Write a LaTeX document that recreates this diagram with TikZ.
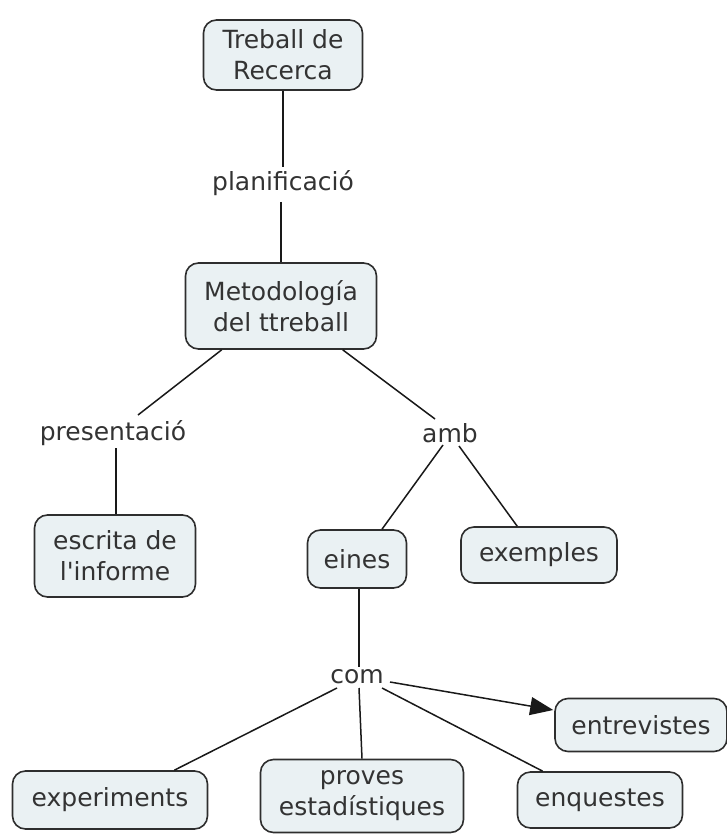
\documentclass[tikz,border=0pt]{standalone}
\usepackage{fontspec}
\setmainfont{DejaVu Sans}
\usetikzlibrary{arrows.meta,calc}
\definecolor{boxfill}{HTML}{EAF1F3}
\definecolor{boxline}{HTML}{2E2E2E}
\definecolor{txt}{HTML}{333333}
\tikzset{
  concept/.style={draw=boxline, line width=1.6pt, fill=boxfill, rounded corners=13pt,
    align=center, inner sep=0pt, text=txt, font=\fontsize{25}{31}\selectfont},
  linkph/.style={inner sep=0pt, text=txt, font=\fontsize{25}{31}\selectfont},
  conn/.style={draw=black!90, line width=1.5pt},
}
\begin{document}
\begin{tikzpicture}[x=1pt,y=-1pt]
\useasboundingbox (0,0) rectangle (726,837);
\fill[white] (0,0) rectangle (726,837);
\node[concept, minimum width=159pt, minimum height=70pt] (trc) at (283,55) {Treball de\\Recerca};
\node[linkph] (plan) at (283,183) {planificació};
\node[concept, minimum width=191pt, minimum height=86pt] (met) at (281,306) {Metodología\\del ttreball};
\node[linkph] (pres) at (113,433) {presentació};
\node[linkph] (amb) at (450,433) {amb};
\node[concept, minimum width=161pt, minimum height=82pt] (esc) at (115,556) {escrita de\\l\textquotesingle informe};
\node[concept, minimum width=99pt, minimum height=58pt] (ein) at (357,559) {eines};
\node[concept, minimum width=156pt, minimum height=56pt] (exe) at (539,555) {exemples};
\node[linkph] (com) at (357,677) {com};
\node[concept, minimum width=172pt, minimum height=53pt] (ent) at (641,725) {entrevistes};
\node[concept, minimum width=195pt, minimum height=58pt] (exp) at (110,800) {experiments};
\node[concept, minimum width=203pt, minimum height=73pt] (pro) at (362,796) {proves\\estadístiques};
\node[concept, minimum width=165pt, minimum height=56pt] (enq) at (600,800) {enquestes};

\draw[conn] (trc.south) -- ($(trc.south |- plan.north)+(0,-3)$);
\draw[conn] ($(plan.south -| met.north)+(0,6)$) -- (met.north);
\draw[conn] ($(met.south west)+(37,0)$) -- ($(pres)+(25,-18)$);
\draw[conn] ($(pres)+(3,15)$) -- ($(esc.north)+(1,0)$);
\draw[conn] ($(met.south west)+(158,0)$) -- ($(amb)+(-15,-14)$);
\draw[conn] ($(amb)+(-7,12)$) -- ($(ein.north)+(25,0)$);
\draw[conn] ($(amb)+(9,13)$) -- ($(exe.north west)+(57,0)$);
\draw[conn] ($(ein.south)+(2,0)$) -- ($(com)+(2,-10)$);
\draw[conn] ($(com)+(-20,11)$) -- ($(exp.north east)+(-34,0)$);
\draw[conn] ($(com)+(2,11)$) -- (pro.north);
\draw[conn] ($(com)+(25,11)$) -- ($(enq.north west)+(26,0)$);
\draw[conn, -{Triangle[length=23pt,width=18pt]}] ($(com)+(33,5)$) -- ($(ent.west)+(-1,-15)$);
\end{tikzpicture}
\end{document}
